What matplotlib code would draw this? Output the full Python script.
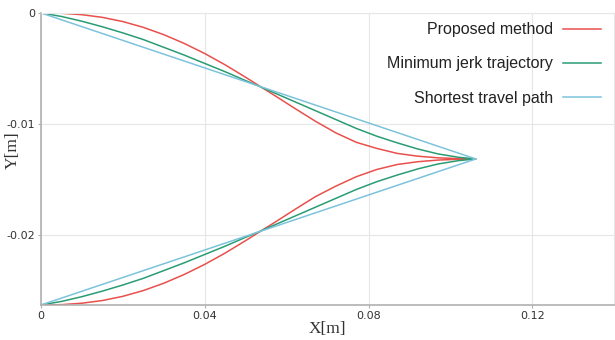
import matplotlib

matplotlib.use("Agg")

import matplotlib.pyplot as plt

RED = "#e8504c"
GREEN = "#2a9c74"
BLUE = "#7cc3dc"
GRID = "#e6e6e6"
SPINE = "#b0b0b0"
TEXT = "#333333"

# trajectories: start (0,0) -> turn point -> back to x=0 at the bottom
path_x = [0.0, 0.005, 0.010, 0.015, 0.020, 0.025, 0.030, 0.035, 0.040, 0.045, 0.050,
          0.053, 0.057, 0.062, 0.067, 0.072, 0.077, 0.082, 0.087, 0.092, 0.097, 0.102,
          0.1062,
          0.102, 0.097, 0.092, 0.087, 0.082, 0.077, 0.072, 0.067, 0.062, 0.057, 0.053,
          0.050, 0.045, 0.040, 0.035, 0.030, 0.025, 0.020, 0.015, 0.010, 0.005, 0.0]

prop_y = [0.0, -0.00003, -0.00016, -0.0004, -0.00078, -0.0013, -0.00196, -0.00275, -0.00366,
          -0.00468, -0.0058, -0.0065, -0.00742, -0.0086, -0.00975, -0.0108, -0.01165, -0.0122,
          -0.01265, -0.0129, -0.01305, -0.01312,
          -0.01315,
          -0.01318, -0.01325, -0.0134, -0.01365, -0.0141, -0.01475, -0.0156, -0.01655, -0.0177,
          -0.01888, -0.0198, -0.0205, -0.02162, -0.02264, -0.02355, -0.02434, -0.0250, -0.02552,
          -0.0259, -0.02614, -0.02627, -0.0263]

mj_y = [0.0, -0.00032, -0.00075, -0.00125, -0.0018, -0.0024, -0.0031, -0.0038, -0.00455,
        -0.0053, -0.0061, -0.00656, -0.0072, -0.0080, -0.0088, -0.0096, -0.0104, -0.0111,
        -0.0117, -0.01225, -0.0127, -0.0130,
        -0.01315,
        -0.0133, -0.0136, -0.01405, -0.0146, -0.0152, -0.0159, -0.0167, -0.0175, -0.0183,
        -0.0191, -0.01974, -0.0202, -0.0210, -0.02175, -0.0225, -0.0232, -0.0239, -0.0245,
        -0.02505, -0.02555, -0.02598, -0.0263]

short_x = [0.0, 0.1062, 0.0]
short_y = [0.0, -0.01315, -0.0263]

labels = ["Proposed method", "Minimum jerk trajectory", "Shortest travel path"]
xticks = [0, 0.04, 0.08, 0.12]
xtick_labels = ["0", "0.04", "0.08", "0.12"]
yticks = [0, -0.01, -0.02]
ytick_labels = ["0", "-0.01", "-0.02"]

fig = plt.figure(figsize=(6.15, 3.4), dpi=100, facecolor="white")
ax = fig.add_axes([0.0667, 0.103, 0.932, 0.859])

ax.plot(path_x, prop_y, color=RED, lw=1.1, label=labels[0])
ax.plot(path_x, mj_y, color=GREEN, lw=1.1, label=labels[1])
ax.plot(short_x, short_y, color=BLUE, lw=1.1, label=labels[2])

ax.set_xlim(0, 0.14)
ax.set_ylim(-0.0263, 0)
ax.set_xticks(xticks)
ax.set_xticklabels(xtick_labels)
ax.set_yticks(yticks)
ax.set_yticklabels(ytick_labels)
ax.tick_params(direction="out", length=2, width=0.8, color=SPINE, labelsize=8, labelcolor=TEXT, pad=2)
ax.grid(True, color=GRID, lw=0.8)
ax.set_axisbelow(True)

for side in ["left", "bottom"]:
    ax.spines[side].set_color(SPINE)
    ax.spines[side].set_linewidth(1.2)
for side in ["top", "right"]:
    ax.spines[side].set_color(GRID)
    ax.spines[side].set_linewidth(0.8)

ax.set_xlabel("X[m]", family="Liberation Serif", fontsize=12.5, color=TEXT, labelpad=0)
ax.set_ylabel("Y[m]", family="Liberation Serif", fontsize=12.5, color=TEXT)
ax.yaxis.set_label_coords(-0.036, 0.53)

leg = ax.legend(loc="upper right", frameon=False, markerfirst=False, fontsize=11.5,
                handlelength=2.4, labelspacing=1.2, handletextpad=0.65,
                bbox_to_anchor=(1.0, 1.012), borderaxespad=0.4)
for t in leg.get_texts():
    t.set_color("#222222")
    t.set_family("Liberation Sans")

fig.savefig("out.png", dpi=100, facecolor="white")
plt.close(fig)
